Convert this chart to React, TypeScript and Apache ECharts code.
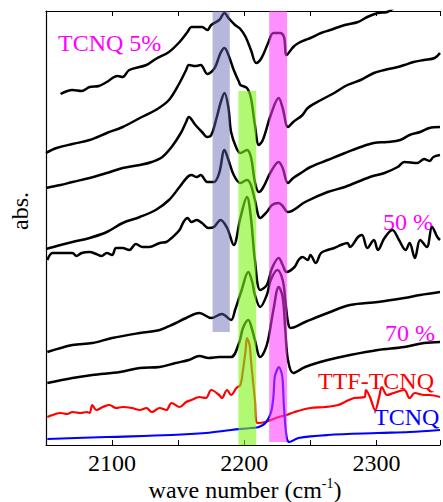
import React, { useEffect, useRef } from "react";
import * as echarts from "echarts";

// wave number (cm^-1), absorbance (a.u., offset traces)
const tcnq5: [number, number][] = [
  [2061, 3.51], [2070, 3.55], [2077, 3.54], [2083, 3.58], [2090, 3.59], [2096, 3.63], [2104, 3.69], [2108, 3.68], [2113, 3.75],
  [2126, 3.8], [2133, 3.86], [2143, 3.93], [2151, 4.03], [2157, 4.13], [2160, 4.18], [2168, 4.18],
  [2172, 4.15], [2175, 4.2], [2181, 4.25], [2185, 4.32], [2188, 4.27], [2193, 4.2], [2197, 4.16],
  [2201, 4.08], [2205, 3.95], [2209, 3.82], [2213, 3.87], [2218, 4.02], [2222, 4.12], [2227, 4.12],
  [2230, 4.08], [2232, 3.9], [2237, 3.98], [2241, 4.02], [2246, 4.05], [2250, 4.07], [2258, 4.12],
  [2265, 4.15], [2276, 4.2], [2286, 4.23], [2293, 4.28], [2301, 4.32], [2308, 4.33], [2316, 4.39],
  [2331, 4.45], [2348, 4.53],
];
const trace2: [number, number][] = [
  [2050, 2.92], [2058, 2.97], [2070, 3.01], [2083, 3.05], [2096, 3.12], [2108, 3.18], [2121, 3.27],
  [2133, 3.35], [2143, 3.45], [2151, 3.62], [2156, 3.75], [2158, 3.8], [2163, 3.79], [2167, 3.8],
  [2172, 3.71], [2175, 3.73], [2178, 3.78], [2182, 3.92], [2185, 3.97], [2188, 3.9], [2192, 3.75],
  [2196, 3.63], [2197, 3.6], [2202, 3.57], [2205, 3.47], [2208, 3.2], [2211, 3.0], [2214, 3.05],
  [2220, 3.3], [2226, 3.47], [2229, 3.37], [2233, 3.18], [2237, 3.23], [2244, 3.3], [2248, 3.37],
  [2258, 3.45], [2268, 3.52], [2278, 3.6], [2288, 3.65], [2298, 3.72], [2306, 3.75], [2316, 3.78],
  [2321, 3.8], [2328, 3.83], [2336, 3.85], [2344, 3.87], [2348, 3.92],
];
const trace3: [number, number][] = [
  [2050, 2.57], [2061, 2.6], [2070, 2.63], [2083, 2.67], [2096, 2.72], [2108, 2.77], [2121, 2.8],
  [2130, 2.83], [2138, 2.88], [2145, 2.98], [2152, 3.12], [2156, 3.23], [2158, 3.28], [2163, 3.2],
  [2168, 3.13], [2172, 3.08], [2175, 3.1], [2179, 3.27], [2182, 3.42], [2185, 3.52], [2188, 3.37],
  [2190, 3.13], [2194, 2.97], [2197, 2.92], [2202, 2.95], [2205, 2.88], [2208, 2.63], [2211, 2.53],
  [2214, 2.57], [2220, 2.73], [2226, 2.83], [2229, 2.77], [2233, 2.62], [2237, 2.67], [2244, 2.73],
  [2250, 2.78], [2263, 2.85], [2276, 2.92], [2288, 2.98], [2298, 3.02], [2308, 3.03], [2318, 3.05],
  [2325, 3.1], [2333, 3.13], [2340, 3.17], [2348, 3.18],
];
const trace4: [number, number][] = [
  [2050, 1.96], [2061, 2.0], [2070, 2.03], [2083, 2.07], [2096, 2.13], [2108, 2.22], [2121, 2.28],
  [2133, 2.35], [2143, 2.45], [2151, 2.58], [2157, 2.68], [2160, 2.7], [2164, 2.68], [2167, 2.7],
  [2172, 2.63], [2177, 2.63], [2181, 2.72], [2185, 2.95], [2188, 2.85], [2192, 2.7], [2197, 2.62],
  [2202, 2.65], [2205, 2.6], [2208, 2.45], [2212, 2.27], [2217, 2.33], [2221, 2.4], [2226, 2.42],
  [2229, 2.39], [2233, 2.33], [2246, 2.43], [2263, 2.53], [2276, 2.58], [2295, 2.68], [2306, 2.72],
  [2316, 2.78], [2321, 2.83], [2331, 2.82], [2336, 2.86], [2340, 2.84], [2343, 2.88], [2348, 2.9],
];
const tcnq50: [number, number][] = [
  [2051, 1.85], [2055, 1.92], [2063, 1.92], [2070, 1.92], [2073, 1.89], [2077, 1.92], [2083, 1.93],
  [2088, 1.91], [2092, 1.89], [2096, 1.92], [2100, 1.9], [2103, 1.97], [2108, 1.97], [2113, 1.95],
  [2118, 2.01], [2123, 1.98], [2128, 1.98], [2136, 2.02], [2141, 2.03], [2145, 2.07], [2151, 2.15],
  [2154, 2.23], [2157, 2.27], [2160, 2.23], [2164, 2.25], [2168, 2.22], [2173, 2.17], [2177, 2.18],
  [2182, 2.25], [2187, 2.17], [2192, 2.0], [2197, 2.27], [2202, 2.48], [2205, 2.27], [2208, 1.85],
  [2212, 1.55], [2217, 1.6], [2221, 1.77], [2226, 1.87], [2229, 1.8], [2232, 1.73], [2238, 1.78],
  [2241, 1.85], [2244, 1.88], [2248, 1.85], [2250, 1.9], [2254, 1.82], [2258, 1.92], [2263, 1.95],
  [2268, 1.97], [2273, 2.0], [2278, 2.02], [2280, 1.98], [2286, 2.08], [2289, 2.1], [2293, 1.97],
  [2298, 2.05], [2301, 1.95], [2306, 2.07], [2312, 2.15], [2317, 2.05], [2322, 1.95], [2325, 2.02],
  [2329, 1.87], [2333, 2.05], [2338, 1.98], [2342, 2.18], [2346, 2.08], [2348, 2.05],
];
const trace6: [number, number][] = [
  [2051, 0.93], [2070, 1.0], [2085, 1.02], [2100, 1.07], [2121, 1.12], [2136, 1.15], [2145, 1.2],
  [2156, 1.27], [2166, 1.32], [2175, 1.27], [2183, 1.31], [2190, 1.25], [2193, 1.35], [2198, 1.55],
  [2203, 1.73], [2206, 1.63], [2208, 1.5], [2212, 1.38], [2217, 1.5], [2220, 1.65], [2225, 1.75],
  [2229, 1.65], [2231, 1.45], [2233, 1.23], [2235, 1.17], [2246, 1.23], [2263, 1.32], [2280, 1.4],
  [2301, 1.43], [2321, 1.47], [2333, 1.5], [2348, 1.53],
];
const tcnq70: [number, number][] = [
  [2051, 0.62], [2070, 0.67], [2085, 0.7], [2106, 0.73], [2121, 0.77], [2136, 0.78], [2148, 0.82],
  [2158, 0.85], [2166, 0.89], [2173, 0.87], [2181, 0.88], [2190, 0.88], [2196, 1.02], [2199, 1.17],
  [2203, 1.25], [2206, 1.15], [2208, 1.05], [2212, 0.88], [2215, 0.93], [2218, 1.05], [2222, 1.35],
  [2226, 1.58], [2229, 1.48], [2231, 1.15], [2233, 0.85], [2237, 0.72], [2246, 0.78], [2263, 0.85],
  [2280, 0.9], [2301, 0.95], [2321, 0.98], [2336, 1.02], [2348, 1.03],
];
const ttfTcnq: [number, number][] = [
  [2051, 0.28], [2055, 0.3], [2061, 0.32], [2066, 0.31], [2070, 0.33], [2076, 0.32], [2081, 0.33],
  [2083, 0.32], [2085, 0.4], [2088, 0.35], [2093, 0.38], [2098, 0.4], [2103, 0.37], [2108, 0.38],
  [2115, 0.37], [2121, 0.35], [2126, 0.37], [2130, 0.33], [2136, 0.37], [2141, 0.35], [2145, 0.42],
  [2151, 0.38], [2156, 0.43], [2160, 0.45], [2166, 0.48], [2171, 0.47], [2175, 0.55], [2181, 0.5],
  [2183, 0.47], [2187, 0.55], [2190, 0.5], [2194, 0.57], [2197, 0.6], [2199, 0.75], [2201, 0.95],
  [2202, 1.07], [2204, 1.0], [2205, 0.85], [2208, 0.45], [2210, 0.22], [2216, 0.23], [2220, 0.25],
  [2226, 0.28], [2232, 0.3], [2238, 0.33], [2250, 0.37], [2261, 0.38], [2271, 0.4], [2276, 0.43],
  [2283, 0.47], [2291, 0.48], [2292, 0.55], [2295, 0.48], [2299, 0.35], [2302, 0.48], [2304, 0.58],
  [2308, 0.5], [2313, 0.52], [2321, 0.55], [2325, 0.47], [2329, 0.52], [2336, 0.5], [2340, 0.5],
  [2348, 0.48],
];
const tcnq: [number, number][] = [
  [2051, 0.06], [2096, 0.08], [2145, 0.1], [2171, 0.12], [2190, 0.15], [2205, 0.17], [2211, 0.18],
  [2216, 0.22], [2220, 0.32], [2222, 0.48], [2223, 0.68], [2225, 0.76], [2226, 0.78], [2228, 0.73],
  [2229, 0.65], [2230, 0.38], [2232, 0.08], [2234, 0.03], [2241, 0.07], [2263, 0.1], [2301, 0.12],
  [2325, 0.13], [2348, 0.15],
];

const blackTraces = [tcnq5, trace2, trace3, trace4, tcnq50, trace6, tcnq70];

// highlighted bands: [from, to] wave number, [bottom, top] absorbance
const bandBlue = { x: [2176, 2189], y: [1.13, 4.36] };
const bandGreen = { x: [2195.5, 2209], y: [-0.03, 3.54] };
const bandMagenta = { x: [2218.8, 2232.3], y: [0.03, 4.37] };

const xTicks = [2100, 2200, 2300];

const FONT = "Liberation Serif";

export default function App() {
  const ref = useRef<HTMLDivElement>(null);
  useEffect(() => {
    if (!ref.current) return;
    const chart = echarts.init(ref.current, undefined, { renderer: "svg" });
    const lineBase = {
      type: "line" as const,
      showSymbol: false,
      symbol: "none",
      smooth: 0.35,
      z: 2,
    };
    const series: any[] = blackTraces.map((d) => ({
      ...lineBase,
      data: d,
      lineStyle: { color: "#000", width: 2.5 },
    }));
    series.push({ ...lineBase, data: ttfTcnq, lineStyle: { color: "#ff0000", width: 2.2 } });
    series.push({ ...lineBase, data: tcnq, lineStyle: { color: "#0000ff", width: 2.2 } });
    const band = (b: { x: number[]; y: number[] }, color: string, hatch: string) => [
      {
        coord: [b.x[0], b.y[0]],
        itemStyle: {
          color,
          decal: {
            symbol: "rect",
            symbolSize: 1,
            dashArrayX: [[1, 0]],
            dashArrayY: [1, 8],
            color: hatch,
          },
        },
      },
      { coord: [b.x[1], b.y[1]] },
    ];
    series.push({
      type: "line",
      data: [],
      z: 10,
      clip: false,
      silent: true,
      markArea: {
        silent: true,
        z: 10,
        data: [
          band(bandBlue, "rgba(95,95,175,0.45)", "rgba(40,40,130,0.4)"),
          band(bandGreen, "rgba(125,245,20,0.6)", "rgba(80,200,0,0.4)"),
          band(bandMagenta, "rgba(255,50,255,0.55)", "rgba(230,0,230,0.4)"),
        ],
      },
    });

    chart.setOption({
      animation: false,
      aria: { enabled: true, decal: { show: true } },
      grid: { left: 46, top: 11, right: 0, bottom: 57 },
      xAxis: [
        {
          type: "value",
          min: 2050,
          max: 2348,
          interval: 50,
          axisLine: { show: true, lineStyle: { color: "#000", width: 1.2 } },
          axisTick: { show: true, inside: true, length: 5, lineStyle: { color: "#000" } },
          axisLabel: {
            margin: 6,
            color: "#000",
            fontFamily: FONT,
            fontSize: 24,
            formatter: (v: number) => (xTicks.includes(v) ? String(v) : ""),
          },
          splitLine: { show: false },
        },
        {
          type: "value",
          position: "top",
          min: 2050,
          max: 2348,
          interval: 50,
          axisLine: { show: true, lineStyle: { color: "#000", width: 1.2 } },
          axisTick: { show: true, inside: true, length: 5, lineStyle: { color: "#000" } },
          axisLabel: { show: false },
          splitLine: { show: false },
        },
      ],
      yAxis: {
        type: "value",
        min: 0,
        max: 4.34,
        axisLine: { show: true, lineStyle: { color: "#000", width: 1.2 } },
        axisTick: { show: false },
        axisLabel: { show: false },
        splitLine: { show: false },
      },
      series,
      graphic: [
        {
          type: "text",
          x: 20,
          y: 211,
          rotation: Math.PI / 2,
          style: { text: "abs.", fontFamily: FONT, fontSize: 24, fill: "#000", align: "center", verticalAlign: "middle" },
        },
        {
          type: "text",
          x: 245,
          y: 489,
          style: {
            text: "{a|wave number (cm}{s|-1}{a|)}",
            align: "center",
            verticalAlign: "middle",
            rich: {
              a: { fontFamily: FONT, fontSize: 24, fill: "#000", lineHeight: 26, verticalAlign: "bottom" },
              s: { fontFamily: FONT, fontSize: 14, fill: "#000", lineHeight: 26, verticalAlign: "top" },
            },
          },
        },
        { type: "text", x: 58, y: 43, style: { text: "TCNQ 5%", fontFamily: FONT, fontSize: 24, fill: "#ff00ff", verticalAlign: "middle" } },
        { type: "text", x: 383, y: 222, style: { text: "50 %", fontFamily: FONT, fontSize: 24, fill: "#ff00ff", verticalAlign: "middle" } },
        { type: "text", x: 385, y: 333, style: { text: "70 %", fontFamily: FONT, fontSize: 24, fill: "#ff00ff", verticalAlign: "middle" } },
        { type: "text", x: 318, y: 381, style: { text: "TTF-TCNQ", fontFamily: FONT, fontSize: 24, fill: "#ff0000", verticalAlign: "middle" } },
        { type: "text", x: 374, y: 417, style: { text: "TCNQ", fontFamily: FONT, fontSize: 24, fill: "#0000ff", verticalAlign: "middle" } },
      ],
    });
    return () => chart.dispose();
  }, []);
  return <div ref={ref} style={{ position: "absolute", left: 0, top: 0, width: 443, height: 502 }} />;
}
